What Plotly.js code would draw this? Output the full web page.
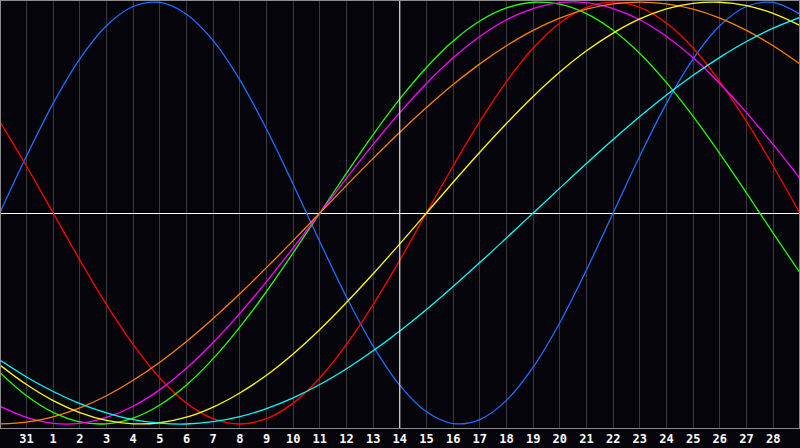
<!DOCTYPE html>
<html>
<head>
<meta charset="utf-8">
<script src="https://cdn.plot.ly/plotly-3.0.1.min.js"></script>
<style>
  html, body { margin: 0; padding: 0; background: #05040a; }
  #chart { width: 800px; height: 448px; }
</style>
</head>
<body>
<div id="chart"></div>
<script>
// one point per day, 30 Jan .. 1 Mar
var days = [
  '2023-01-30', '2023-01-31', '2023-02-01', '2023-02-02', '2023-02-03', '2023-02-04',
  '2023-02-05', '2023-02-06', '2023-02-07', '2023-02-08', '2023-02-09', '2023-02-10',
  '2023-02-11', '2023-02-12', '2023-02-13', '2023-02-14', '2023-02-15', '2023-02-16',
  '2023-02-17', '2023-02-18', '2023-02-19', '2023-02-20', '2023-02-21', '2023-02-22',
  '2023-02-23', '2023-02-24', '2023-02-25', '2023-02-26', '2023-02-27', '2023-02-28',
  '2023-03-01'
];
var dayLabels = ['31', '1', '2', '3', '4', '5', '6', '7', '8', '9', '10', '11', '12', '13', '14',
  '15', '16', '17', '18', '19', '20', '21', '22', '23', '24', '25', '26', '27', '28'];
var today = '2023-02-14';

var physical = [0, 0.270, 0.520, 0.731, 0.888, 0.979, 0.998, 0.942, 0.817, 0.631, 0.398, 0.136, -0.136, -0.398, -0.631,
  -0.817, -0.942, -0.998, -0.979, -0.888, -0.731, -0.520, -0.270, 0, 0.270, 0.520, 0.731, 0.888, 0.979, 0.998, 0.942];
var emotional = [0.434, 0.223, 0, -0.223, -0.434, -0.623, -0.782, -0.901, -0.975, -1, -0.975, -0.901, -0.782, -0.623, -0.434,
  -0.223, 0, 0.223, 0.434, 0.623, 0.782, 0.901, 0.975, 1, 0.975, 0.901, 0.782, 0.623, 0.434, 0.223, 0];
var intellectual = [-0.756, -0.866, -0.945, -0.990, -0.999, -0.972, -0.910, -0.815, -0.690, -0.541, -0.372, -0.189, 0, 0.189, 0.372,
  0.541, 0.690, 0.815, 0.910, 0.972, 0.999, 0.990, 0.945, 0.866, 0.756, 0.618, 0.458, 0.282, 0.095, -0.095, -0.282];
var intuitive = [-0.916, -0.969, -0.997, -0.997, -0.969, -0.916, -0.837, -0.736, -0.614, -0.476, -0.325, -0.165, 0, 0.165, 0.325,
  0.476, 0.614, 0.736, 0.837, 0.916, 0.969, 0.997, 0.997, 0.969, 0.916, 0.837, 0.736, 0.614, 0.476, 0.325, 0.165];
var aesthetic = [-1, -0.991, -0.966, -0.924, -0.866, -0.793, -0.707, -0.609, -0.5, -0.383, -0.259, -0.131, 0, 0.131, 0.259,
  0.383, 0.5, 0.609, 0.707, 0.793, 0.866, 0.924, 0.966, 0.991, 1, 0.991, 0.966, 0.924, 0.866, 0.793, 0.707];
var awareness = [-0.720, -0.813, -0.889, -0.946, -0.983, -0.999, -0.994, -0.968, -0.920, -0.853, -0.769, -0.668, -0.552, -0.424, -0.288,
  -0.146, 0, 0.146, 0.288, 0.424, 0.552, 0.668, 0.769, 0.853, 0.920, 0.968, 0.994, 0.999, 0.983, 0.946, 0.889];
var spiritual = [-0.697, -0.777, -0.846, -0.903, -0.947, -0.979, -0.996, -1.000, -0.989, -0.965, -0.927, -0.876, -0.813, -0.738, -0.653,
  -0.559, -0.457, -0.348, -0.235, -0.118, 0, 0.118, 0.235, 0.348, 0.457, 0.559, 0.653, 0.738, 0.813, 0.876, 0.927];

function curve(values, color) {
  return {
    x: days, y: values, type: 'scatter', mode: 'lines',
    line: { color: color, width: 1.3, shape: 'spline', smoothing: 1 },
    hoverinfo: 'skip'
  };
}

var data = [
  curve(physical, '#1f6fff'),
  curve(emotional, '#ff0000'),
  curve(intellectual, '#22ff00'),
  curve(intuitive, '#ff00ff'),
  curve(aesthetic, '#ff8000'),
  curve(awareness, '#ffff00'),
  curve(spiritual, '#00ffff')
];

var layout = {
  width: 800,
  height: 448,
  margin: { t: 1, b: 20, l: 1, r: 1 },
  paper_bgcolor: '#05040a',
  plot_bgcolor: '#05040a',
  showlegend: false,
  hovermode: false,
  xaxis: {
    type: 'date',
    range: ['2023-01-30 01:03', '2023-02-28 23:17'],
    tickvals: days.slice(1, 30),
    ticktext: dayLabels,
    ticks: '',
    showgrid: true,
    gridcolor: '#3a3a3a',
    gridwidth: 1,
    showline: true,
    linecolor: '#8c8c8c',
    linewidth: 1,
    mirror: true,
    zeroline: false,
    tickfont: { family: 'DejaVu Sans Mono', size: 12, color: '#ffffff', weight: 'bold' },
    fixedrange: true
  },
  yaxis: {
    range: [-1.019, 1.005],
    showticklabels: false,
    ticks: '',
    showgrid: false,
    zeroline: true,
    zerolinecolor: '#ffffff',
    zerolinewidth: 1,
    showline: true,
    linecolor: '#8c8c8c',
    linewidth: 1,
    mirror: true,
    fixedrange: true
  },
  shapes: [{
    type: 'line', xref: 'x', yref: 'paper',
    x0: today, x1: today, y0: 0, y1: 1,
    line: { color: '#ffffff', width: 1 }
  }]
};

Plotly.newPlot('chart', data, layout, { displayModeBar: false, staticPlot: true });
</script>
</body>
</html>
